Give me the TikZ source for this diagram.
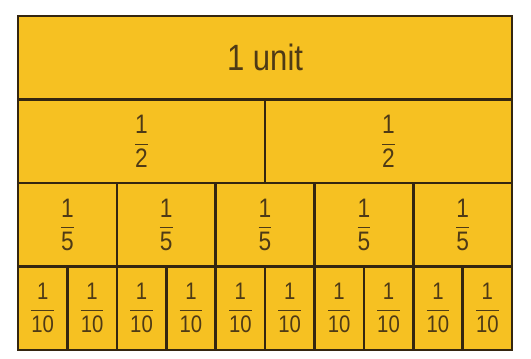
\documentclass[tikz,border=0pt]{standalone}
\usepackage{amsmath}
\usepackage{graphicx}
\usepackage{fontspec}
\setmainfont{Liberation Sans}
\definecolor{stripfill}{RGB}{246,193,34}
\definecolor{stripline}{RGB}{52,38,16}
\definecolor{striptext}{RGB}{78,58,22}
\tikzset{
  strip/.style ={draw=stripline, fill=stripfill, line width=0.065cm, anchor=north west,
                 inner sep=0pt, outer sep=0pt, minimum height=2.0875cm, text=striptext,
                 font=\fontsize{19}{21}\selectfont},
  small/.style ={font=\fontsize{17}{19}\selectfont}
}
\newcommand{\narrow}[1]{\scalebox{0.85}[1]{#1}}
\newcommand{\fr}[2]{\narrow{$\dfrac{\text{#1}}{\text{#2}}$}}

\begin{document}
\begin{tikzpicture}[x=0.025cm,y=-0.025cm]
  \useasboundingbox (0,0) rectangle (531,359);
  \node[strip, minimum width=12.35cm, font=\fontsize{26}{28}\selectfont] (whole) at (18,16) {\narrow{1 unit}};
  \node[strip, minimum width=6.175cm] (halfA) at (18,99.5) {\fr{1}{2}};
  \node[strip, minimum width=6.175cm] (halfB) at (265,99.5) {\fr{1}{2}};
  \foreach \i in {0,...,4}
    \node[strip, minimum width=2.47cm] (fifth\i) at (18+98.8*\i,183) {\fr{1}{5}};
  \foreach \i in {0,...,9}
    \node[strip, small, minimum width=1.235cm] (tenth\i) at (18+49.4*\i,266.5) {\fr{1}{10}};
\end{tikzpicture}
\end{document}
